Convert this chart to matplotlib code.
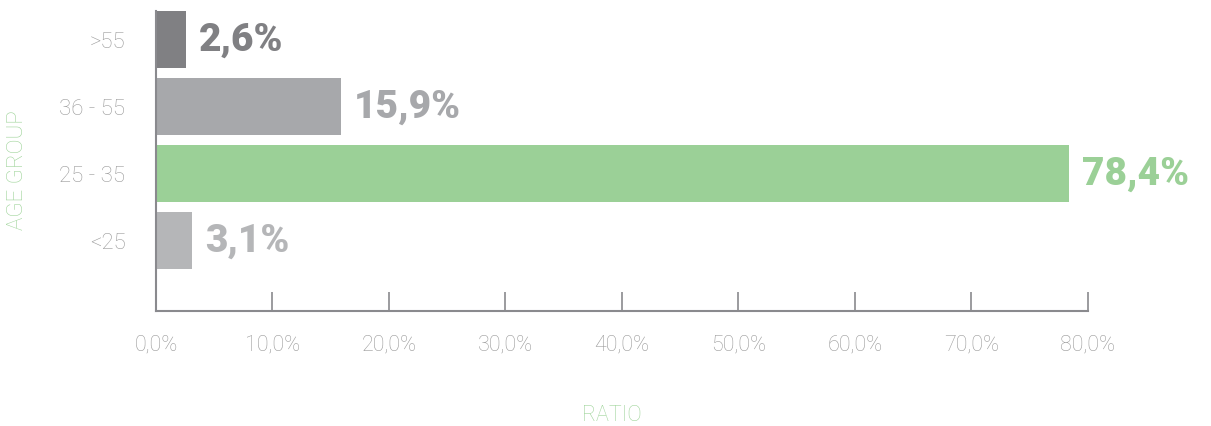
import matplotlib.pyplot as plt
from matplotlib.ticker import FuncFormatter

groups = ['<25', '25 - 35', '36 - 55', '>55']
share = [3.1, 78.4, 15.9, 2.6]
colors = ['#b5b6b8', '#9bd097', '#a7a8ab', '#808083']
ticks = [0, 10, 20, 30, 40, 50, 60, 70, 80]

green = '#9fd49a'
light = '#9a9a9a'
plt.rcParams['font.family'] = ['Roboto', 'DejaVu Sans']

fig = plt.figure(figsize=(12.11, 4.27), dpi=100)
ax = fig.add_axes([0.1288, 0.2693, 0.7696, 0.7026])

ypos = range(len(groups))
ax.barh(ypos, share, height=0.85, color=colors)
for y, v, c in zip(ypos, share, colors):
    ax.text(v + 1.1, y, f'{v:.1f}%'.replace('.', ','), va='center', ha='left',
            fontsize=28, fontweight='black', color=c)

ax.set_xlim(0, 80)
ax.set_ylim(-1.06, 3.425)
ax.set_xticks(ticks)
ax.xaxis.set_major_formatter(FuncFormatter(lambda x, p: f'{x:.1f}%'.replace('.', ',')))
ax.set_yticks(list(ypos))
ax.set_yticklabels(groups)

for s in ['top', 'right']:
    ax.spines[s].set_visible(False)
for s in ['left', 'bottom']:
    ax.spines[s].set_color('#8a8a8e')
    ax.spines[s].set_linewidth(1.5)

ax.tick_params(axis='x', direction='in', length=14, width=1.2, color='#8a8a8e',
               labelsize=15.5, labelcolor=light, pad=16)
ax.tick_params(axis='y', length=0, labelsize=16, labelcolor=light, pad=22)
for lab in ax.get_xticklabels() + ax.get_yticklabels():
    lab.set_fontweight('light')

fig.text(18 / 1211, 1 - 170 / 427, 'AGE GROUP', rotation=90, ha='center', va='center',
         color=green, fontsize=16, fontweight='light')
fig.text(612 / 1211, 1 - 416 / 427, 'RATIO', ha='center', va='center',
         color=green, fontsize=15.5, fontweight='light')

fig.savefig('out.png', dpi=100)
